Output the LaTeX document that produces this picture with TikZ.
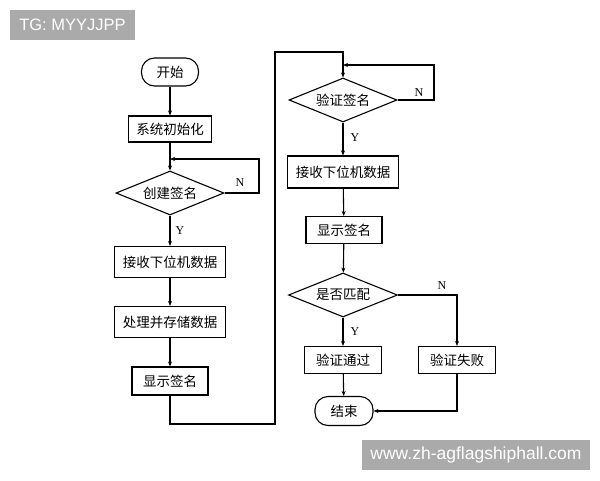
\documentclass[tikz,border=0pt]{standalone}
\usepackage{fontspec}
\setmainfont{Liberation Serif}
\newfontfamily\cjk{Noto Sans CJK SC}
\newfontfamily\wmfont{Liberation Sans}
\usetikzlibrary{shapes.geometric,arrows.meta}
\definecolor{wmgray}{RGB}{170,170,170}
\begin{document}
\begin{tikzpicture}[x=1pt,y=-1pt,
  line width=1.1pt,
  cn/.style={font=\cjk\fontsize{13.5}{13.5}\selectfont},
  box/.style={draw, rectangle, inner sep=0pt, cn},
  term/.style={draw, rectangle, rounded corners=13pt, inner sep=0pt, cn},
  dec/.style={draw, diamond, aspect=2.4, inner sep=0pt, cn},
  arr/.style={-{Stealth[length=5pt,width=4pt]}},
  lab/.style={font=\fontsize{12}{12}\selectfont},
  wm/.style={fill=wmgray, text=white, inner sep=0pt, font=\wmfont\fontsize{16.5}{16.5}\selectfont}
]
\useasboundingbox[fill=white] (0,0) rectangle (600,480);

% watermarks
\node[wm, minimum width=125pt, minimum height=30pt] (wm1) at (72.5,25) {TG: MYYJJPP};
\node[wm, minimum width=228pt, minimum height=30pt, font=\wmfont\fontsize{17.5}{17.5}\selectfont] (wm2) at (476,455) {www.zh-agflagshiphall.com};

% left column
\node[term, minimum width=57pt, minimum height=28pt] (start) at (170,72) {开始};
\node[box, minimum width=83pt, minimum height=26pt] (init) at (170,129) {系统初始化};
\node[dec, minimum width=108pt, minimum height=44pt] (d1) at (170,193) {创建签名};
\node[box, minimum width=111pt, minimum height=31pt] (recv1) at (170,262) {接收下位机数据};
\node[box, minimum width=111pt, minimum height=31pt] (proc) at (170,322) {处理并存储数据};
\node[box, minimum width=76pt, minimum height=28pt] (show1) at (170,381) {显示签名};

% right column
\node[dec, minimum width=108pt, minimum height=44pt] (d2) at (343,100) {验证签名};
\node[box, minimum width=111pt, minimum height=32pt] (recv2) at (343,172) {接收下位机数据};
\node[box, minimum width=76pt, minimum height=27pt] (show2) at (344,230) {显示签名};
\node[dec, minimum width=109pt, minimum height=44pt] (d3) at (343,295) {是否匹配};
\node[box, minimum width=77pt, minimum height=27pt] (pass) at (343,360) {验证通过};
\node[box, minimum width=77pt, minimum height=27pt] (fail) at (457,360) {验证失败};
\node[term, minimum width=58pt, minimum height=29pt] (end) at (344,411) {结束};

% coordinates
\coordinate (j1) at (170,159);
\coordinate (c0) at (259,159);
\coordinate (c1) at (275,424);
\coordinate (c2) at (275,52);
\coordinate (c3) at (343,52);
\coordinate (j2) at (343,65);
\coordinate (c4) at (434,65);

% connectors
\draw[arr] (start) -- (init);
\draw[arr] (init) -- (d1);
\draw[arr] (d1.east) -| (c0) -- (j1);
\draw[arr] (d1) -- (recv1);
\draw[arr] (recv1) -- (proc);
\draw[arr] (proc) -- (show1);
\draw[arr] (show1) |- (c1) -- (c2) -- (c3) -- (d2);
\draw[arr] (d2.east) -| (c4) -- (j2);
\draw[arr] (d2) -- (recv2);
\draw[arr] (recv2) -- (show2);
\draw[arr] (show2) -- (d3);
\draw[arr] (d3) -- (pass);
\draw[arr] (d3.east) -| (fail);
\draw[arr] (pass) -- (end);
\draw[arr] (fail) |- (end);

% labels
\node[lab] (n1) at (240,183) {N};
\node[lab] (y1) at (180,231) {Y};
\node[lab] (n2) at (419,93) {N};
\node[lab] (y2) at (355,138) {Y};
\node[lab] (n3) at (442,286) {N};
\node[lab] (y3) at (355,332) {Y};
\end{tikzpicture}
\end{document}
